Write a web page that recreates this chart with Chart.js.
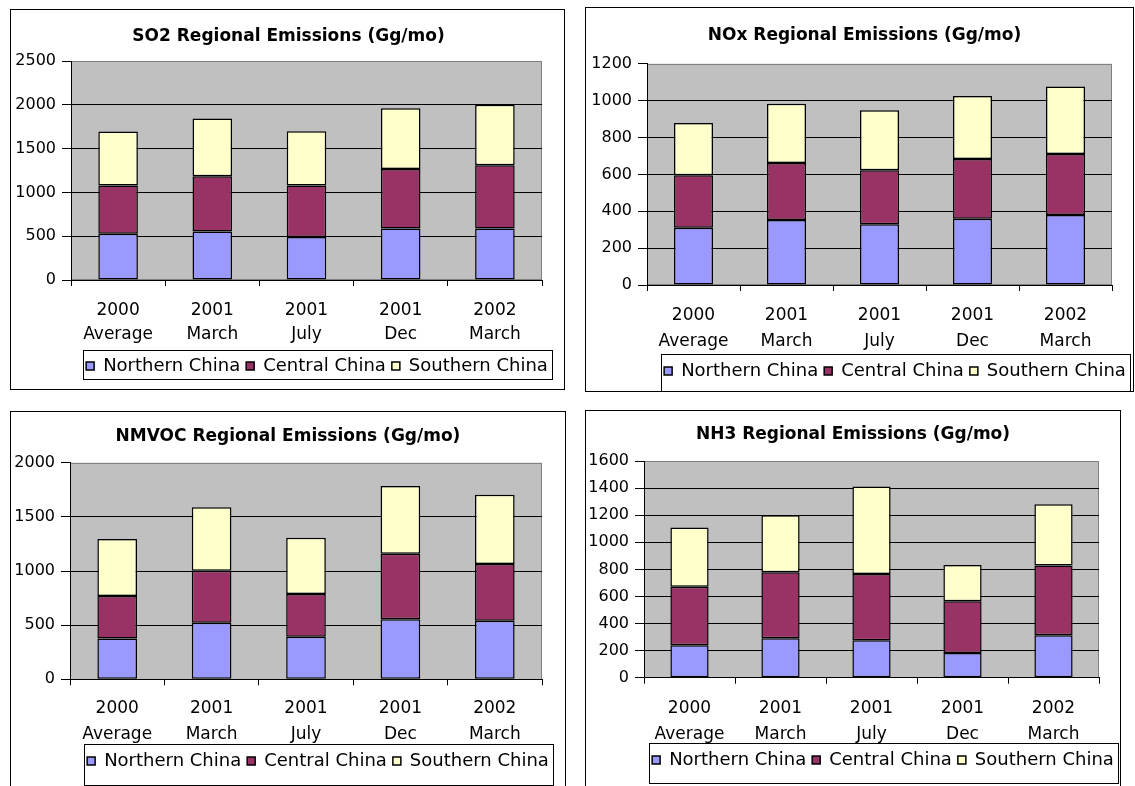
<!DOCTYPE html>
<html>
<head>
<meta charset="utf-8">
<title>Regional Emissions (Gg/mo)</title>
<script src="https://cdn.jsdelivr.net/npm/chart.js@4.4.1/dist/chart.umd.min.js"></script>
<style>
    html, body { margin: 0; padding: 0; background: #fff; overflow: hidden; }
    body { width: 1135px; height: 786px; position: relative; }
    .panel { position: absolute; box-sizing: border-box; border: 1px solid #000; background: #fff; }
    .panel canvas { display: block; }
</style>
</head>
<body>
<div class="panel" style="left:10px;top:9px;width:555px;height:381px"><canvas id="so2Chart" width="553" height="379"></canvas></div>
<div class="panel" style="left:585px;top:7px;width:549px;height:385px"><canvas id="noxChart" width="547" height="383"></canvas></div>
<div class="panel" style="left:10px;top:411px;width:556px;height:392px"><canvas id="nmvocChart" width="554" height="390"></canvas></div>
<div class="panel" style="left:585px;top:410px;width:536px;height:392px"><canvas id="nh3Chart" width="534" height="390"></canvas></div>
<script>
var categories = [['2000', 'Average'], ['2001', 'March'], ['2001', 'July'], ['2001', 'Dec'], ['2002', 'March']];
var regions = ['Northern China', 'Central China', 'Southern China'];

// Gg/mo per region, stacked Northern -> Central -> Southern
var so2Northern = [527, 555, 490, 588, 588];
var so2Central  = [551, 628, 590, 680, 722];
var so2Southern = [617, 662, 618, 694, 690];

var noxNorthern = [310, 352, 330, 359, 379];
var noxCentral  = [285, 310, 292, 324, 331];
var noxSouthern = [284, 321, 325, 342, 366];

var nmvocNorthern = [376, 523, 394, 555, 540];
var nmvocCentral  = [393, 480, 394, 605, 525];
var nmvocSouthern = [526, 585, 520, 625, 638];

var nh3Northern = [240, 292, 277, 183, 314];
var nh3Central  = [432, 486, 489, 382, 514];
var nh3Southern = [437, 422, 645, 267, 452];

// y axis: [max, step]
var so2Axis = [2500, 500];
var noxAxis = [1200, 200];
var nmvocAxis = [2000, 500];
var nh3Axis = [1600, 200];

var regionColors = ['#9999FF', '#993366', '#FFFFCC'];

Chart.defaults.font.family = "'DejaVu Sans', sans-serif";
Chart.defaults.color = '#000';

var plotBackground = {
    id: 'plotBackground',
    beforeDraw: function(chart){
        var a = chart.chartArea, ctx = chart.ctx;
        ctx.save();
        ctx.fillStyle = '#C0C0C0';
        ctx.fillRect(a.left, a.top, a.right - a.left, a.bottom - a.top);
        ctx.strokeStyle = '#808080';
        ctx.lineWidth = 1;
        ctx.strokeRect(Math.round(a.left) + 0.5, Math.round(a.top) + 0.5, Math.round(a.right - a.left) - 1, Math.round(a.bottom - a.top) - 1);
        ctx.restore();
    }
};

// Excel puts title and legend a bit right of the canvas middle
var nudge = {
    id: 'nudge',
    afterLayout: function(chart, args, opts){
        if(chart.titleBlock){
            chart.titleBlock.left += opts.title;
            chart.titleBlock.right += opts.title;
        }
        if(chart.legend){
            chart.legend.left += opts.legend;
            chart.legend.right += opts.legend;
        }
    }
};

var legendFrame = {
    id: 'legendFrame',
    afterDraw: function(chart, args, opts){
        var boxes = chart.legend && chart.legend.legendHitBoxes;
        if(!boxes || !boxes.length)
            return;
        var first = boxes[0], last = boxes[boxes.length - 1];
        var mid = first.top + first.height / 2;
        var left = Math.round(first.left - 3) + 0.5;
        var right = Math.round(last.left + last.width + 4) + 0.5;
        var top = Math.round(mid + opts.top) + 0.5;
        var bottom = Math.round(mid + opts.bottom) + 0.5;
        var ctx = chart.ctx;
        ctx.save();
        ctx.strokeStyle = '#000';
        ctx.lineWidth = 1;
        ctx.strokeRect(left, top, right - left, bottom - top);
        ctx.restore();
    }
};

function buildChart(id, title, series, axis, g){
    var yMax = axis[0];
    return new Chart(document.getElementById(id), {
        type: 'bar',
        data: {
            labels: categories,
            datasets: series.map(function(values, i){
                return {
                    label: regions[i],
                    data: values,
                    backgroundColor: regionColors[i],
                    borderColor: '#000',
                    borderWidth: 1.5,
                    borderSkipped: false,
                    barPercentage: 0.42,
                    categoryPercentage: 1
                };
            })
        },
        options: {
            responsive: false,
            animation: false,
            events: [],
            layout: { padding: { left: 0, right: g.padRight, top: 0, bottom: g.padBottom } },
            scales: {
                x: {
                    stacked: true,
                    offset: true,
                    grid: { display: true, offset: true, drawOnChartArea: false, drawTicks: true, tickLength: 6, color: '#000' },
                    border: { display: true, color: '#000', width: 1 },
                    ticks: { color: '#000', font: { size: 17, lineHeight: g.labelLine + 'px' }, padding: g.labelPad, maxRotation: 0, autoSkip: false },
                    afterFit: function(scale){ scale.height = g.xHeight; }
                },
                y: {
                    stacked: true,
                    min: 0,
                    max: yMax,
                    ticks: {
                        stepSize: axis[1],
                        color: '#000',
                        font: { size: 16 },
                        padding: 6,
                        callback: function(value){ return String(value); }
                    },
                    grid: {
                        color: function(c){ return c.tick && c.tick.value === yMax ? 'rgba(0,0,0,0)' : '#000'; },
                        tickColor: '#000',
                        tickLength: 9,
                        lineWidth: 1
                    },
                    border: { display: true, color: '#000', width: 1 },
                    afterFit: function(scale){ scale.width = g.yWidth; }
                }
            },
            plugins: {
                title: {
                    display: true,
                    text: title,
                    color: '#000',
                    font: { size: 17, weight: 'bold', lineHeight: '20px' },
                    padding: { top: g.titleTop, bottom: g.titleBottom }
                },
                legend: {
                    position: 'bottom',
                    labels: { color: '#000', font: { size: 18 }, boxWidth: 8, boxHeight: 8, padding: 6 }
                },
                tooltip: { enabled: false },
                nudge: { title: g.titleShift, legend: g.legendShift },
                legendFrame: { top: g.frameTop, bottom: g.frameBottom }
            }
        },
        plugins: [plotBackground, nudge, legendFrame]
    });
}

buildChart('so2Chart', 'SO2 Regional Emissions (Gg/mo)', [so2Northern, so2Central, so2Southern], so2Axis, {
    padRight: 22, padBottom: 4, yWidth: 60, xHeight: 71, labelLine: 24, labelPad: 13,
    titleTop: 16.5, titleBottom: 14.5, titleShift: 12, legendShift: 40.5, frameTop: -16, frameBottom: 13
});
buildChart('noxChart', 'NOx Regional Emissions (Gg/mo)', [noxNorthern, noxCentral, noxSouthern], noxAxis, {
    padRight: 21, padBottom: 1, yWidth: 61, xHeight: 71, labelLine: 26, labelPad: 11.5,
    titleTop: 17.5, titleBottom: 18.2, titleShift: 15.5, legendShift: 46, frameTop: -17, frameBottom: 21
});
buildChart('nmvocChart', 'NMVOC Regional Emissions (Gg/mo)', [nmvocNorthern, nmvocCentral, nmvocSouthern], nmvocAxis, {
    padRight: 23, padBottom: 22, yWidth: 59, xHeight: 66.7, labelLine: 26, labelPad: 10.4,
    titleTop: 15, titleBottom: 15.7, titleShift: 11.5, legendShift: 41.5, frameTop: -17, frameBottom: 24
});
buildChart('nh3Chart', 'NH3 Regional Emissions (Gg/mo)', [nh3Northern, nh3Central, nh3Southern], nh3Axis, {
    padRight: 21, padBottom: 22, yWidth: 58, xHeight: 67.3, labelLine: 26, labelPad: 12,
    titleTop: 14, titleBottom: 16, titleShift: 10.5, legendShift: 40.5, frameTop: -17, frameBottom: 23
});
</script>
</body>
</html>
